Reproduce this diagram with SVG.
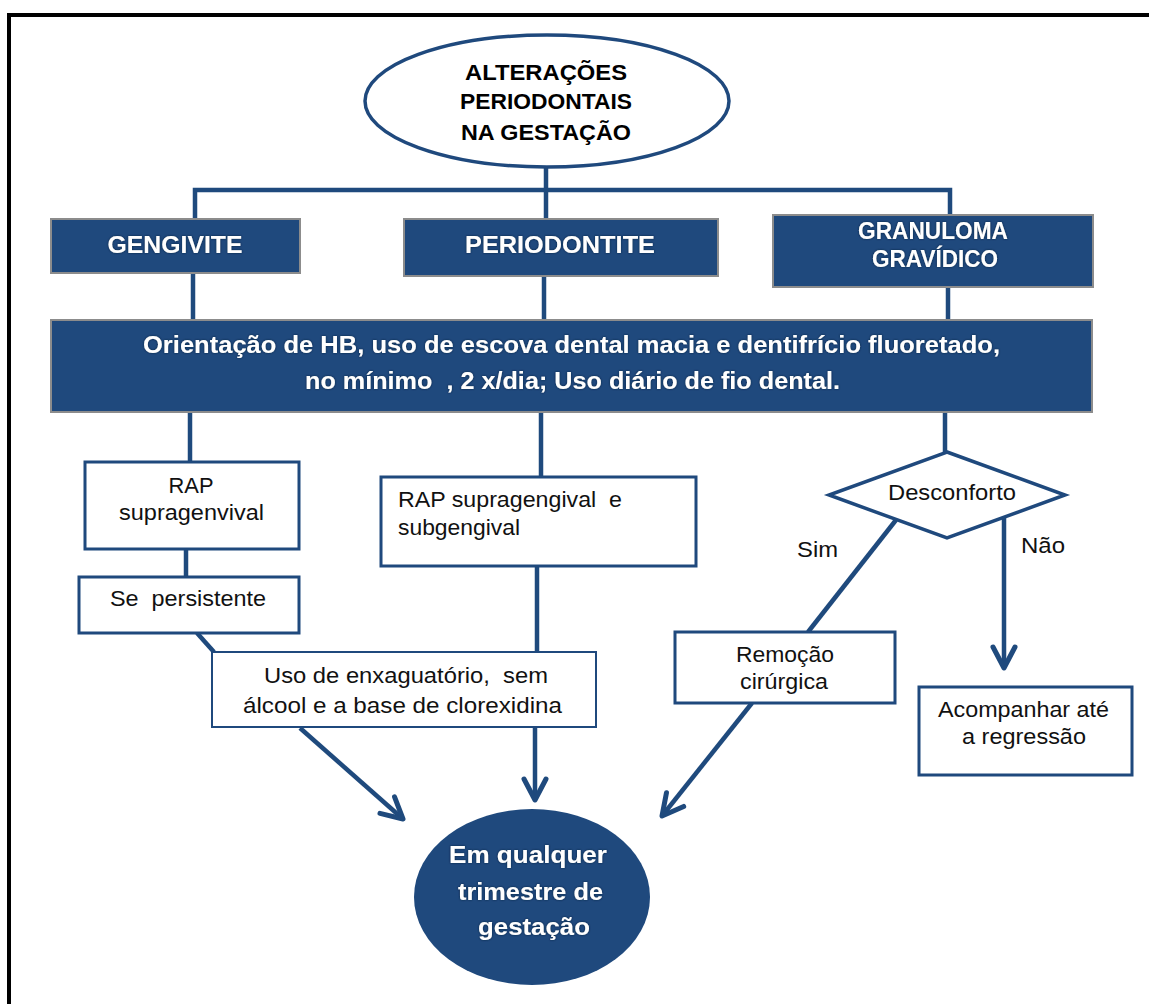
<svg xmlns="http://www.w3.org/2000/svg" width="1149" height="1004" viewBox="0 0 1149 1004">
  <defs>
    <style>
      .lbl { font-family: "Liberation Sans", Arial, sans-serif; font-size: 22px; fill: #111; text-anchor: middle; }
      .lbl-l { font-family: "Liberation Sans", Arial, sans-serif; font-size: 22px; fill: #111; text-anchor: start; }
      .head { font-family: "Liberation Sans", Arial, sans-serif; font-size: 22px; font-weight: bold; fill: #000; text-anchor: middle; }
      .wt { font-family: "Liberation Sans", Arial, sans-serif; font-size: 23px; font-weight: bold; fill: #fff; text-anchor: middle; filter: url(#glow); }
      .blue { fill: #1F497D; stroke: #8C8C8C; stroke-width: 2; }
      .white { fill: #fff; stroke: #1F497D; stroke-width: 3; }
      .white-thin { fill: #fff; stroke: #1F497D; stroke-width: 2; }
      .conn { fill: none; stroke: #1F4A7D; stroke-width: 4.5; stroke-linecap: butt; }
    </style>
    <filter id="glow" x="-10%" y="-30%" width="120%" height="160%">
      <feGaussianBlur in="SourceAlpha" stdDeviation="1.3" result="b"/>
      <feFlood flood-color="#0B1E38" flood-opacity="0.9"/>
      <feComposite in2="b" operator="in" result="s"/>
      <feMerge>
        <feMergeNode in="s"/>
        <feMergeNode in="SourceGraphic"/>
      </feMerge>
    </filter>
    <marker id="chev" viewBox="-26 -16 30 32" markerWidth="30" markerHeight="32" refX="0" refY="0" orient="auto" markerUnits="userSpaceOnUse">
      <path d="M-21,-11 L0,0 L-21,11" fill="none" stroke="#1F4A7D" stroke-width="5" stroke-linecap="round" stroke-linejoin="round"/>
    </marker>
  </defs>

  <rect width="1149" height="1004" fill="#fff"/>

  <!-- page frame -->
  <g id="frame">
    <rect x="7" y="13" width="1142" height="4" fill="#000"/>
    <rect x="7" y="13" width="4" height="991" fill="#000"/>
  </g>

  <!-- connectors -->
  <g id="connectors">
    <path class="conn" d="M546,167 V190"/>
    <path class="conn" d="M195,219 V190 H950 V215"/>
    <path class="conn" d="M546,190 V219"/>
    <path class="conn" d="M193,273 V320"/>
    <path class="conn" d="M544,276 V320"/>
    <path class="conn" d="M948,287 V320"/>
    <path class="conn" d="M190,412 V462"/>
    <path class="conn" d="M541,412 V477"/>
    <path class="conn" d="M945,412 V452"/>
    <path class="conn" d="M186,549 V577"/>
    <path class="conn" d="M197,633 L214,652"/>
    <path class="conn" d="M537,566 V652"/>
    <path class="conn" d="M535,727 V800" marker-end="url(#chev)"/>
    <path class="conn" d="M300,728 L403,819" marker-end="url(#chev)"/>
    <path class="conn" d="M896,520 L808,632"/>
    <path class="conn" d="M752,703 L662,816" marker-end="url(#chev)"/>
    <path class="conn" d="M1004,518 V668" marker-end="url(#chev)"/>
  </g>

  <g id="n-root">
    <ellipse cx="547" cy="101" rx="182" ry="66" fill="#fff" stroke="#1F497D" stroke-width="3.5"/>
    <text class="head" x="546" y="80" textLength="162" lengthAdjust="spacingAndGlyphs">ALTERAÇÕES</text>
    <text class="head" x="546" y="109" textLength="172" lengthAdjust="spacingAndGlyphs">PERIODONTAIS</text>
    <text class="head" x="546" y="140" textLength="170" lengthAdjust="spacingAndGlyphs">NA GESTAÇÃO</text>
  </g>

  <g id="n-gengivite">
    <rect class="blue" x="51" y="219" width="249" height="54"/>
    <text class="wt" x="175" y="253" textLength="135" lengthAdjust="spacingAndGlyphs">GENGIVITE</text>
  </g>

  <g id="n-periodontite">
    <rect class="blue" x="404" y="219" width="314" height="57"/>
    <text class="wt" x="560" y="253" textLength="190" lengthAdjust="spacingAndGlyphs">PERIODONTITE</text>
  </g>

  <g id="n-granuloma">
    <rect class="blue" x="773" y="215" width="320" height="72"/>
    <text class="wt" x="933" y="239" font-size="21" textLength="150" lengthAdjust="spacingAndGlyphs">GRANULOMA</text>
    <text class="wt" x="935" y="267" font-size="21" textLength="126" lengthAdjust="spacingAndGlyphs">GRAVÍDICO</text>
  </g>

  <g id="n-orientacao">
    <rect class="blue" x="51" y="320" width="1041" height="92"/>
    <text class="wt" x="571.5" y="353" textLength="857" lengthAdjust="spacingAndGlyphs">Orientação de HB, uso de escova dental macia e dentifrício fluoretado,</text>
    <text class="wt" x="572.5" y="389" textLength="535" lengthAdjust="spacingAndGlyphs" xml:space="preserve">no mínimo  , 2 x/dia; Uso diário de fio dental.</text>
  </g>

  <g id="n-rap-supra">
    <rect class="white" x="85" y="462" width="214" height="87"/>
    <text class="lbl" x="191" y="493" textLength="45" lengthAdjust="spacingAndGlyphs">RAP</text>
    <text class="lbl" x="191.5" y="520" textLength="145" lengthAdjust="spacingAndGlyphs">supragenvival</text>
  </g>

  <g id="n-persistente">
    <rect class="white" x="79" y="577" width="220" height="56"/>
    <text class="lbl" x="188" y="606" textLength="156" lengthAdjust="spacingAndGlyphs" xml:space="preserve">Se  persistente</text>
  </g>

  <g id="n-rap-sub">
    <rect class="white" x="381" y="477" width="315" height="89"/>
    <text class="lbl-l" x="398" y="507" textLength="224" lengthAdjust="spacingAndGlyphs" xml:space="preserve">RAP supragengival  e</text>
    <text class="lbl-l" x="398" y="535" textLength="122" lengthAdjust="spacingAndGlyphs">subgengival</text>
  </g>

  <g id="n-enxaguatorio">
    <rect class="white-thin" x="212" y="652" width="384" height="75"/>
    <text class="lbl" x="406" y="683" textLength="284" lengthAdjust="spacingAndGlyphs" xml:space="preserve">Uso de enxaguatório,  sem</text>
    <text class="lbl" x="402.5" y="713" textLength="319" lengthAdjust="spacingAndGlyphs">álcool e a base de clorexidina</text>
  </g>

  <g id="n-desconforto">
    <polygon points="947,452 1065,495 947,538 829,495" fill="#fff" stroke="#1F497D" stroke-width="3.5" stroke-linejoin="miter"/>
    <text class="lbl" x="952" y="500" textLength="128" lengthAdjust="spacingAndGlyphs">Desconforto</text>
  </g>

  <g id="edge-labels">
    <text class="lbl" x="817.5" y="557" textLength="41" lengthAdjust="spacingAndGlyphs">Sim</text>
    <text class="lbl" x="1043" y="553" textLength="44" lengthAdjust="spacingAndGlyphs">Não</text>
  </g>

  <g id="n-remocao">
    <rect class="white" x="675" y="632" width="220" height="71"/>
    <text class="lbl" x="785" y="662" textLength="98" lengthAdjust="spacingAndGlyphs">Remoção</text>
    <text class="lbl" x="784" y="689" textLength="88" lengthAdjust="spacingAndGlyphs">cirúrgica</text>
  </g>

  <g id="n-acompanhar">
    <rect class="white" x="919" y="687" width="213" height="88"/>
    <text class="lbl" x="1023.5" y="717" textLength="171" lengthAdjust="spacingAndGlyphs">Acompanhar até</text>
    <text class="lbl" x="1024" y="744" textLength="124" lengthAdjust="spacingAndGlyphs">a regressão</text>
  </g>

  <g id="n-trimestre">
    <ellipse cx="532" cy="897" rx="118" ry="88" fill="#1F497D"/>
    <text class="wt" x="528" y="863" textLength="158" lengthAdjust="spacingAndGlyphs">Em qualquer</text>
    <text class="wt" x="530.5" y="900" textLength="145" lengthAdjust="spacingAndGlyphs">trimestre de</text>
    <text class="wt" x="534" y="935" textLength="112" lengthAdjust="spacingAndGlyphs">gestação</text>
  </g>
</svg>
